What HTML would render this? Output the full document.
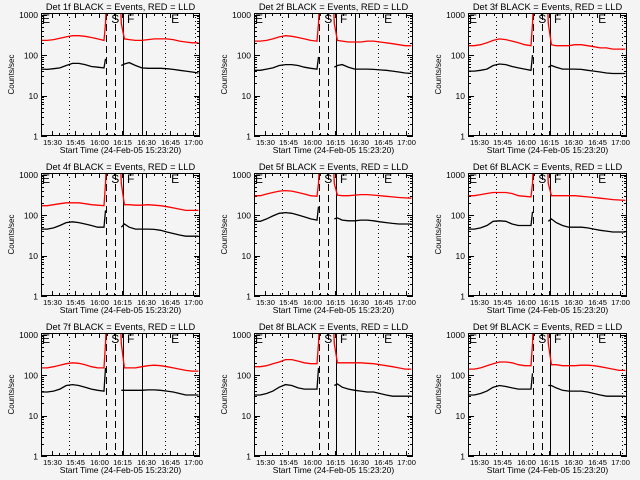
<!DOCTYPE html>
<html><head><meta charset="utf-8"><style>
html,body{margin:0;padding:0;background:#f4f4f4;}
svg{display:block;font-family:"Liberation Sans",sans-serif;}
</style></head><body>
<svg id="chart" width="640" height="480" xmlns="http://www.w3.org/2000/svg" shape-rendering="crispEdges">
<rect width="640" height="480" fill="#f4f4f4"/>
</svg>
<script>
// times (minutes after 15:23:20)
const times = [0,4,8,12,16,20,24,28,32,36,40,41,42,50,51,53,56,60,64,68,72,76,80,84,88,92,96,100];
const detectors = ["1f","2f","3f","4f","5f","6f","7f","8f","9f"];
const redP1 = [230,230,240,260,280,300,300,290,270,250,230,600,5000,5000,600,250,240,230,230,240,250,250,250,240,220,210,200,200];
const blkP1 = [45,44,46,48,55,62,62,58,52,50,48,80,null,null,55,60,65,55,48,47,47,47,46,44,42,40,38,36];
const redP2 = [220,220,230,250,280,300,290,270,250,230,220,600,5000,5000,600,230,220,210,210,210,220,220,210,200,190,180,170,170];
const blkP2 = [42,42,45,48,55,58,58,55,50,47,45,90,null,null,50,55,58,50,45,45,45,44,43,42,40,38,36,35];
const redP3 = [170,170,180,200,230,250,240,220,200,180,170,600,5000,5000,600,180,170,170,170,180,180,170,160,150,150,140,140,140];
const blkP3 = [40,40,42,45,55,60,58,52,48,45,42,100,null,null,50,55,50,45,45,45,44,42,40,38,36,35,35,35];
const redP4 = [170,170,180,190,200,200,200,190,180,175,170,600,5000,5000,600,180,180,175,175,180,175,170,160,150,140,130,130,130];
const blkP4 = [45,45,48,55,65,68,65,60,55,50,50,130,null,null,50,60,50,45,45,45,44,42,38,35,32,30,30,30];
const redP5 = [300,300,330,360,390,400,390,360,330,300,290,600,5000,5000,600,310,300,300,310,320,320,310,300,290,280,270,265,260];
const blkP5 = [70,70,80,95,110,115,110,100,90,80,75,160,null,null,80,85,75,72,72,75,75,72,68,65,62,60,60,60];
const redP6 = [300,300,320,340,360,360,360,340,300,290,280,600,5000,5000,600,300,300,300,300,300,290,280,270,260,250,240,235,230];
const blkP6 = [45,45,48,55,70,72,70,60,55,55,55,120,null,null,70,80,65,55,50,50,50,48,45,42,40,38,38,38];
const redP7 = [150,150,160,175,190,200,195,180,160,150,150,600,5000,5000,600,150,150,150,160,170,175,170,160,150,140,130,125,125];
const blkP7 = [38,38,40,45,55,58,55,50,45,42,40,150,null,null,42,42,42,42,42,43,43,42,40,38,35,32,32,32];
const redP8 = [160,160,170,190,210,240,240,220,200,190,190,600,5000,5000,600,200,200,200,200,200,195,190,180,170,160,150,140,140];
const blkP8 = [32,32,35,40,50,58,55,48,45,45,45,150,null,null,55,60,50,45,42,40,38,38,35,32,30,30,30,30];
const redP9 = [140,140,150,170,190,210,210,200,180,170,170,600,5000,5000,600,180,180,170,170,170,175,175,170,160,150,140,130,130];
const blkP9 = [32,32,35,40,50,55,52,48,45,45,45,110,null,null,55,55,48,42,40,40,40,38,35,32,30,30,30,30];
const redSeries = [redP1,redP2,redP3,redP4,redP5,redP6,redP7,redP8,redP9];
const blkSeries = [blkP1,blkP2,blkP3,blkP4,blkP5,blkP6,blkP7,blkP8,blkP9];
const dashedTimes = [41,47.2];
const solidTimes = [52.2,64.2];
const dottedTimes = [17.6,78.6,98];
const xTickLabels = ["15:30","15:45","16:00","16:15","16:30","16:45","17:00"];
const xTickMins = [6.67,21.67,36.67,51.67,66.67,81.67,96.67];
const yTickVals = [1,10,100,1000];
const markLetters = ["E","S","F","E"];
const markTimes = [0,44,54,82];

const NS="http://www.w3.org/2000/svg";
const svg=document.getElementById('chart');
function mk(tag,attrs,parent){const e=document.createElementNS(NS,tag);for(const k in attrs)e.setAttribute(k,attrs[k]);(parent||svg).appendChild(e);return e;}

for(let p=0;p<9;p++){
  const col=p%3,row=Math.floor(p/3);
  const ox=Math.round(col*213.33),oy=row*160;
  const L=ox+41,R=ox+200,T=oy+13,B=oy+136;
  const xs=t=>L+t*(R-L)/101;
  const ys=v=>{const lv=Math.log10(Math.max(v,0.5));return B-lv*(B-T)/Math.log10(1090);};
  const g=mk('g',{});
  
  
  const clipId='clip'+p;
  const cp=mk('clipPath',{id:clipId},g);mk('rect',{x:L,y:T,width:R-L,height:B-T},cp);
  const tt=mk('text',{x:(L+R)/2,y:oy+10,'text-anchor':'middle','font-size':'9.3',fill:'#000'},g);
  tt.textContent='Det '+detectors[p]+' BLACK = Events, RED = LLD';
  
  
  const yl=mk('text',{x:0,y:0,'text-anchor':'middle','font-size':'8',fill:'#000',transform:`translate(${ox+14},${(T+B)/2}) rotate(-90)`},g);
  yl.textContent='Counts/sec';
  
  
  const xt=mk('text',{x:(L+R)/2,y:oy+153,'text-anchor':'middle','font-size':'8.5',fill:'#000'},g);
  xt.textContent='Start Time (24-Feb-05 15:23:20)';
  
  
  yTickVals.forEach(v=>{
    const y=ys(v);
    const t=mk('text',{x:L-3,y:y+3.5,'text-anchor':'end','font-size':'8.5',fill:'#000'},g);
    t.textContent=String(v);
    
    
    mk('line',{x1:L,x2:L+6,y1:Math.round(y)+.5,y2:Math.round(y)+.5,stroke:'#000'},g);
    mk('line',{x1:R-6,x2:R,y1:Math.round(y)+.5,y2:Math.round(y)+.5,stroke:'#000'},g);
    for(let m=2;m<10;m++){const yy=ys(v*m);if(yy<T)break;
      mk('line',{x1:L,x2:L+3,y1:Math.round(yy)+.5,y2:Math.round(yy)+.5,stroke:'#000'},g);
      mk('line',{x1:R-3,x2:R,y1:Math.round(yy)+.5,y2:Math.round(yy)+.5,stroke:'#000'},g);}
  });
  xTickMins.forEach((m,i)=>{
    const x=Math.round(xs(m))+.5;
    const t=mk('text',{x:x,y:oy+145,'text-anchor':'middle','font-size':'7.5',fill:'#000'},g);
    t.textContent=xTickLabels[i];
    
    
    mk('line',{x1:x,x2:x,y1:B-5,y2:B,stroke:'#000'},g);
    mk('line',{x1:x,x2:x,y1:T,y2:T+5,stroke:'#000'},g);
    for(let k=1;k<3;k++){const xx=Math.round(xs(m+k*5))+.5;if(xx>R)break;
      mk('line',{x1:xx,x2:xx,y1:B-3,y2:B,stroke:'#000'},g);mk('line',{x1:xx,x2:xx,y1:T,y2:T+3,stroke:'#000'},g);}
  });
  dottedTimes.forEach(t=>{const x=Math.round(xs(t))+.5;const l=mk('line',{x1:x,x2:x,y1:T,y2:B,stroke:'#000','stroke-dasharray':'1,3'},g);
    });
  dashedTimes.forEach(t=>{const x=Math.round(xs(t))+.5;const l=mk('line',{x1:x,x2:x,y1:T,y2:B,stroke:'#000','stroke-dasharray':'7,4'},g);
    });
  solidTimes.forEach(t=>{const x=Math.round(xs(t))+.5;const l=mk('line',{x1:x,x2:x,y1:T,y2:B,stroke:'#000'},g);
    });
  markLetters.forEach((s,i)=>{const t=mk('text',{x:xs(markTimes[i])+1,y:T+10,'font-size':'12',fill:'#000'},g);
    t.textContent=s;});
  const drawSeries=(vals,color,name)=>{
    let d='',pen=false;
    vals.forEach((v,i)=>{if(v===null){pen=false;return;}
      const x=xs(times[i]).toFixed(1),y=ys(v).toFixed(1);d+=(pen?'L':'M')+x+','+y;pen=true;});
    const pa=mk('path',{d:d,fill:'none',stroke:color,'stroke-width':'1.3','clip-path':`url(#${clipId})`,'shape-rendering':'auto'},g);
    
    
  };
  drawSeries(redSeries[p],'#ff0000','lld-series-red');
  drawSeries(blkSeries[p],'#000000','events-series-black');
  const box=mk('rect',{x:L+.5,y:T+.5,width:R-L-1,height:B-T-1,fill:'none',stroke:'#000'},g);
  
  
}
</script>
</body></html>
